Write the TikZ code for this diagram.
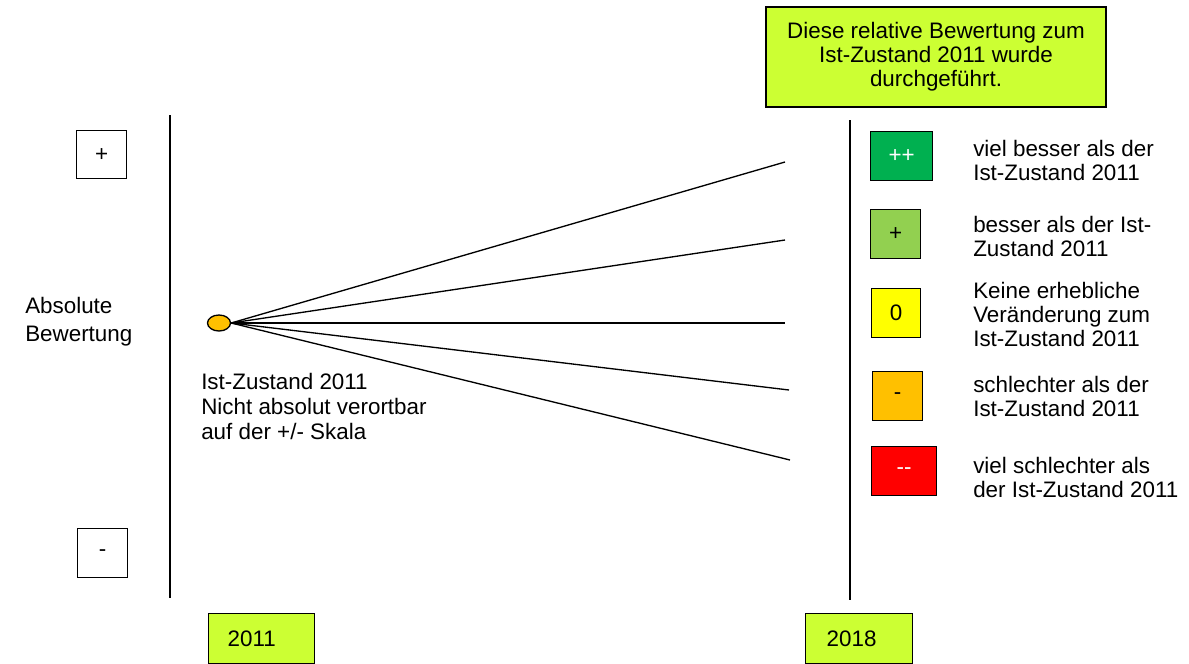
\documentclass[tikz,border=0pt]{standalone}
\usepackage{fontspec}
\setmainfont{Liberation Sans}
\usetikzlibrary{shapes.geometric}
\definecolor{lime}{HTML}{CCFF33}
\definecolor{dgreen}{HTML}{00B050}
\definecolor{lgreen}{HTML}{92D050}
\definecolor{yel}{HTML}{FFFF00}
\definecolor{orng}{HTML}{FFC000}
\definecolor{rd}{HTML}{FF0000}
\begin{document}
\begin{tikzpicture}[x=0.75pt,y=-0.75pt,
  every node/.style={font=\fontsize{16.8pt}{18pt}\selectfont},
  box/.style={draw=black,line width=1pt,inner sep=0pt,anchor=north west},
  txt/.style={inner sep=0pt,align=left,anchor=west},
  ray/.style={line width=1pt}]
\useasboundingbox (0,0) rectangle (1189,664);
% top box
\node[box,fill=lime,minimum width={340*0.75pt},minimum height={100*0.75pt},align=center,anchor=center] (top) at (936,57)
  {Diese relative Bewertung zum\\Ist-Zustand 2011 wurde\\durchgeführt.};
% vertical axes
\coordinate (l1) at (170,115); \coordinate (l2) at (170,598);
\coordinate (r1) at (850,120); \coordinate (r2) at (850,600);
\draw[line width=1.3pt] (l1) -- (l2);
\draw[line width=1.3pt] (r1) -- (r2);
% left scale
\node[box,minimum width={50*0.75pt},minimum height={48*0.75pt}] (plus) at (76,130) {+};
\node[box,minimum width={50*0.75pt},minimum height={49*0.75pt}] (minus) at (77,528) {-};
\node[txt,font=\fontsize{16.8pt}{21pt}\selectfont] (abs) at (25,322) {Absolute\\Bewertung};
% ellipse
\node[draw=black,line width=1pt,fill=orng,ellipse,minimum width={23*0.75pt},minimum height={16*0.75pt},inner sep=0pt] (ist) at (219,323) {};
\node[txt,anchor=north west,font=\fontsize{16.8pt}{18.75pt}\selectfont] (isttxt) at (201,373) {Ist-Zustand 2011\\Nicht absolut verortbar\\auf der +/- Skala};
% rays
\coordinate (e1) at (785,162);
\coordinate (e2) at (785,240);
\coordinate (e3) at (785,323);
\coordinate (e4) at (789,390);
\coordinate (e5) at (790,460);
\foreach \e in {e1,e2,e3,e4,e5} \draw[ray] (ist.east) -- (\e);
% legend boxes
\node[box,fill=dgreen,minimum width={62*0.75pt},minimum height={49*0.75pt},text=white] (pp) at (870,131) {++};
\node[box,fill=lgreen,minimum width={50*0.75pt},minimum height={49*0.75pt}] (p) at (870,209) {+};
\node[box,fill=yel,minimum width={49*0.75pt},minimum height={49*0.75pt}] (z) at (871,288) {0};
\node[box,fill=orng,minimum width={50*0.75pt},minimum height={49*0.75pt}] (m) at (872,371) {-};
\node[box,fill=rd,minimum width={65*0.75pt},minimum height={49*0.75pt},text=white] (mm) at (871,446) {{-}{-}};
% legend texts
\node[txt] (tpp) at (973,160) {viel besser als der\\Ist-Zustand 2011};
\node[txt] (tp) at (973,236) {besser als der Ist-\\Zustand 2011};
\node[txt] (tz) at (973,314) {Keine erhebliche\\Veränderung zum\\Ist-Zustand 2011};
\node[txt] (tm) at (973,396) {schlechter als der\\Ist-Zustand 2011};
\node[txt] (tmm) at (973,477) {viel schlechter als\\der Ist-Zustand 2011};
% year boxes
\node[box,fill=lime,minimum height={50*0.75pt},text width={68*0.75pt},align=left,inner xsep={19*0.75pt}] (y1) at (208,613) {2011};
\node[box,fill=lime,minimum height={50*0.75pt},text width={65*0.75pt},align=left,inner xsep={21*0.75pt}] (y2) at (805,613) {2018};
\end{tikzpicture}
\end{document}
